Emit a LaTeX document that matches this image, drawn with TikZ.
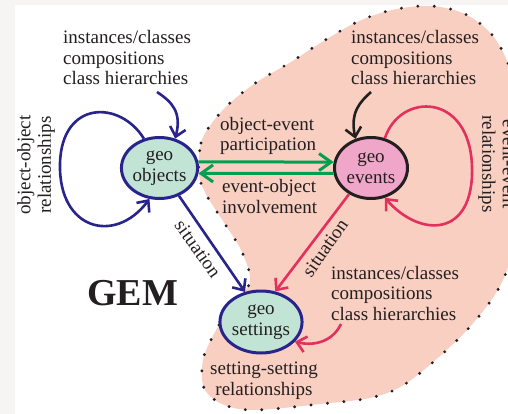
\documentclass[tikz,border=0pt]{standalone}
\usepackage{fontspec}
\setmainfont{Liberation Serif}
\usetikzlibrary{arrows.meta,shapes.geometric}
\definecolor{txt}{RGB}{35,31,32}
\definecolor{navy}{RGB}{40,36,140}
\definecolor{mint}{RGB}{193,228,212}
\definecolor{evpink}{RGB}{240,166,200}
\definecolor{blobc}{RGB}{248,207,193}
\definecolor{crim}{RGB}{228,48,92}
\definecolor{grn}{RGB}{0,160,80}
\definecolor{marginc}{RGB}{247,245,243}
\begin{document}
\begin{tikzpicture}[x=1pt,y=-1pt,
  every node/.style={text=txt, font=\fontsize{19}{20.5}\selectfont},
  geo/.style={ellipse, line width=3pt, minimum width=73pt, minimum height=61pt, inner sep=0pt, align=center},
  lbl/.style={align=left, inner sep=0pt, anchor=base west},
  barb/.style={-{Straight Barb[length=9pt,width=16pt]}},
  navyarrow/.style={draw=navy, line width=2.6pt, barb},
  crimarrow/.style={draw=crim, line width=2.6pt, barb},
  blackarrow/.style={draw=txt, line width=2.6pt, barb},
  grnarrow/.style={draw=grn, line width=3pt, -{Straight Barb[length=12pt,width=17pt]}},
  dotline/.style={draw=txt, line width=3.2pt, line cap=round, dash pattern=on 0pt off 16.5pt}
]
\useasboundingbox (0,0) rectangle (508,414);
\clip (0,0) rectangle (508,414);
\fill[marginc] (0,0) rectangle (508,414);
\fill[white] (15,5) rectangle (508,414);

% blob
\def\blobpts{(199,175) (201,143) (212,123) (230,103) (257,82) (291,62) (322,42) (357,22) (392,10) (431,6) (467,15) (496,40) (515,85) (522,150) (518,220) (503,280) (467,330) (411,380) (374,397) (320,404) (254,410) (222,404) (204,388) (203,360) (214,334) (232,304) (250,282) (242,252) (225,224) (207,196)}
\fill[blobc] plot[smooth cycle, tension=0.55] coordinates {\blobpts};
\path[dotline] plot[smooth cycle, tension=0.55] coordinates {\blobpts};

% ellipses
\node[geo, draw=navy, fill=mint] (obj) at (159.5,168) {geo\\objects};
\node[geo, draw=txt, fill=evpink] (ev) at (371,168) {geo\\events};
\node[geo, draw=navy, fill=mint, minimum width=74pt, minimum height=62pt] (set) at (261,322) {geo\\settings};

% texts (base anchor = baseline of the last line)
\node[lbl] (t1) at (63,85) {instances/classes\\compositions\\class hierarchies};
\node[lbl] (t2) at (351,85) {instances/classes\\compositions\\class hierarchies};
\node[lbl] (t3) at (331,320) {instances/classes\\compositions\\class hierarchies};
\node[lbl] (oe) at (220,150.5) {object-event\\participation};
\node[lbl] (eo) at (222,213) {event-object\\involvement};
\node[align=center, anchor=base, inner sep=0pt] (ss) at (264,395) {setting-setting\\relationships};
\node[font=\fontsize{38}{40}\selectfont\bfseries, anchor=base, inner sep=0pt] (gem) at (132.5,305) {GEM};
\node[rotate=90, align=center] (oo) at (36,165) {object-object\\relationships};
\node[rotate=-90, align=center] (ee) at (496,164) {event-event\\relationships};
\node[rotate=-54.5] (s1) at (198,249) {situation};
\node[rotate=55] (s2) at (325,248) {situation};

% connector start points
\coordinate (a1) at (157,92);
\coordinate (a2) at (371,92);
\coordinate (a3) at (341,324);
\coordinate (lp) at (60,163);
\coordinate (rp) at (472,167);

% arrows
\draw[navyarrow] (a1) .. controls (172,102) and (182,112) .. (obj.62);
\draw[blackarrow] (a2) .. controls (360,102) and (350,112) .. (ev.118);
\draw[crimarrow] (a3) .. controls (332,343) and (312,346) .. (set.-30);
\draw[navyarrow] (obj.118) .. controls (120,100) and (62,100) .. (lp) .. controls (58,230) and (115,245) .. (obj.-108);
\draw[crimarrow] (ev.65) .. controls (400,92) and (470,92) .. (rp) .. controls (474,238) and (420,238) .. (ev.-65);
\draw[navyarrow] (obj.-55) -- (set.118);
\draw[crimarrow] (ev.-130) -- (set.65);
\draw[grnarrow] (obj.9) -- (ev.171);
\draw[grnarrow] (ev.188) -- (obj.-8);
\end{tikzpicture}
\end{document}
